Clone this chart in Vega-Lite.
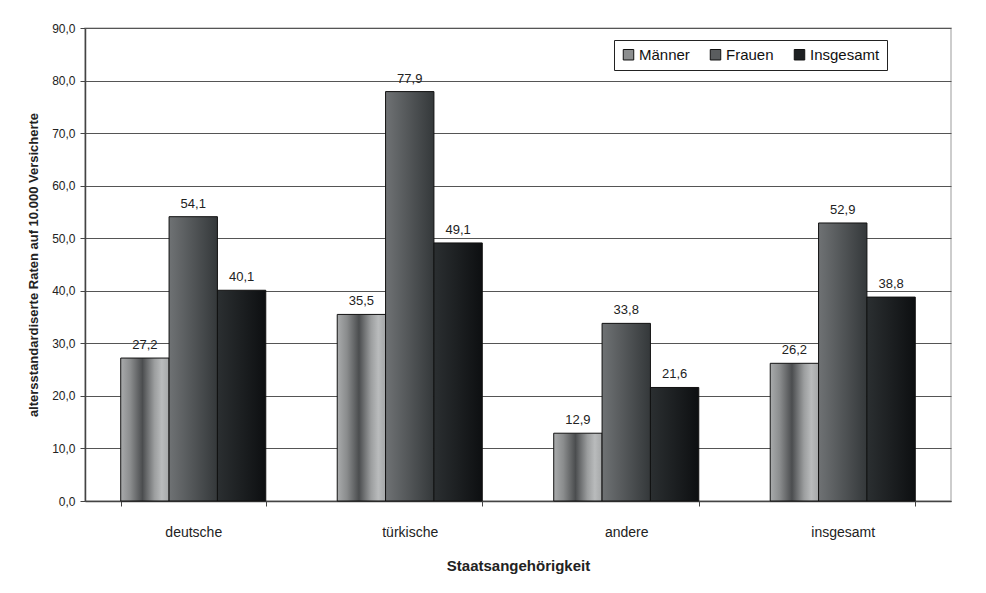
{
  "$schema": "https://vega.github.io/schema/vega-lite/v6.json",
  "width": 866,
  "height": 473,
  "autosize": "none",
  "padding": {"left": 85, "top": 28, "right": 35, "bottom": 92},
  "background": "white",
  "config": {
    "font": "Liberation Sans",
    "locale": {"number": {"decimal": ",", "thousands": ".", "grouping": [3], "currency": ["", " €"]}},
    "view": {"stroke": "#bdbdbd", "strokeWidth": 1.5}
  },
  "data": {
    "values": [
      {"land": "deutsche", "gruppe": "Männer", "wert": 27.2},
      {"land": "deutsche", "gruppe": "Frauen", "wert": 54.1},
      {"land": "deutsche", "gruppe": "Insgesamt", "wert": 40.1},
      {"land": "türkische", "gruppe": "Männer", "wert": 35.5},
      {"land": "türkische", "gruppe": "Frauen", "wert": 77.9},
      {"land": "türkische", "gruppe": "Insgesamt", "wert": 49.1},
      {"land": "andere", "gruppe": "Männer", "wert": 12.9},
      {"land": "andere", "gruppe": "Frauen", "wert": 33.8},
      {"land": "andere", "gruppe": "Insgesamt", "wert": 21.6},
      {"land": "insgesamt", "gruppe": "Männer", "wert": 26.2},
      {"land": "insgesamt", "gruppe": "Frauen", "wert": 52.9},
      {"land": "insgesamt", "gruppe": "Insgesamt", "wert": 38.8}
    ]
  },
  "encoding": {
    "x": {
      "field": "land",
      "type": "nominal",
      "sort": ["deutsche", "türkische", "andere", "insgesamt"],
      "scale": {"paddingInner": 0.33, "paddingOuter": 0.165},
      "axis": {
        "title": "Staatsangehörigkeit",
        "titleFont": "Liberation Sans",
        "titleFontSize": 15,
        "titleFontWeight": "bold",
        "titleColor": "#222",
        "titlePadding": 19,
        "labelAngle": 0,
        "labelFontSize": 14,
        "labelFont": "Liberation Sans",
        "labelColor": "#222",
        "labelPadding": 19,
        "tickBand": "extent",
        "tickSize": 5,
        "tickColor": "#444",
        "domainColor": "#444",
        "domainWidth": 1.5
      }
    },
    "xOffset": {
      "field": "gruppe",
      "type": "nominal",
      "sort": ["Männer", "Frauen", "Insgesamt"],
      "scale": {"domain": ["Männer", "Frauen", "Insgesamt"]}
    },
    "y": {
      "field": "wert",
      "type": "quantitative",
      "scale": {"domain": [0, 90], "nice": false},
      "axis": {
        "title": "altersstandardiserte Raten auf 10.000 Versicherte",
        "titleFont": "Liberation Sans",
        "titleFontSize": 13,
        "titleFontWeight": "bold",
        "titleColor": "#222",
        "titlePadding": 11,
        "values": [0, 10, 20, 30, 40, 50, 60, 70, 80, 90],
        "format": ".1f",
        "labelFontSize": 12,
        "labelFont": "Liberation Sans",
        "labelColor": "#222",
        "labelPadding": 5,
        "tickSize": 5,
        "tickColor": "#444",
        "domainColor": "#444",
        "domainWidth": 1.5,
        "grid": true,
        "gridColor": "#555",
        "gridWidth": 1.2
      }
    }
  },
  "layer": [
    {
      "mark": {"type": "bar", "fillOpacity": 0, "strokeOpacity": 0},
      "encoding": {
        "fill": {
          "field": "gruppe",
          "type": "nominal",
          "sort": ["Männer", "Frauen", "Insgesamt"],
          "scale": {"domain": ["Männer", "Frauen", "Insgesamt"], "range": ["#8c8e8f", "#5a5d5f", "#1d2022"]},
          "legend": {
            "title": null,
            "orient": "none",
            "legendX": 529,
            "legendY": 12,
            "direction": "horizontal",
            "columns": 3,
            "columnPadding": 18,
            "symbolType": "square",
            "symbolSize": 110,
            "symbolOpacity": 1,
            "symbolStrokeColor": "#111",
            "symbolStrokeWidth": 1,
            "labelFont": "Liberation Sans",
            "labelFontSize": 15,
            "labelColor": "#111",
            "labelOffset": 3,
            "strokeColor": "#222",
            "padding": 7,
            "fillColor": "white"
          }
        }
      }
    },
    {
      "transform": [{"filter": "datum.gruppe === 'Männer'"}],
      "mark": {
        "type": "bar", "stroke": "#111", "strokeWidth": 1,
        "fill": {"gradient": "linear", "x1": 0, "y1": 0, "x2": 1, "y2": 0, "stops": [
          {"offset": 0, "color": "#a9abac"},
          {"offset": 0.2, "color": "#8a8c8d"},
          {"offset": 0.45, "color": "#4b4d4f"},
          {"offset": 0.7, "color": "#9c9e9f"},
          {"offset": 0.85, "color": "#b9bbbc"},
          {"offset": 1, "color": "#a5a7a8"}
        ]}
      }
    },
    {
      "transform": [{"filter": "datum.gruppe === 'Frauen'"}],
      "mark": {
        "type": "bar", "stroke": "#111", "strokeWidth": 1,
        "fill": {"gradient": "linear", "x1": 0, "y1": 0, "x2": 1, "y2": 0, "stops": [
          {"offset": 0, "color": "#6f7274"},
          {"offset": 1, "color": "#34383a"}
        ]}
      }
    },
    {
      "transform": [{"filter": "datum.gruppe === 'Insgesamt'"}],
      "mark": {
        "type": "bar", "stroke": "#111", "strokeWidth": 1,
        "fill": {"gradient": "linear", "x1": 0, "y1": 0, "x2": 1, "y2": 0, "stops": [
          {"offset": 0, "color": "#2b2f31"},
          {"offset": 1, "color": "#0d0f11"}
        ]}
      }
    },
    {
      "mark": {"type": "text", "dy": -13, "fontSize": 13, "font": "Liberation Sans", "color": "#222"},
      "encoding": {
        "text": {"field": "wert", "type": "quantitative", "format": ".1f"}
      }
    }
  ]
}
